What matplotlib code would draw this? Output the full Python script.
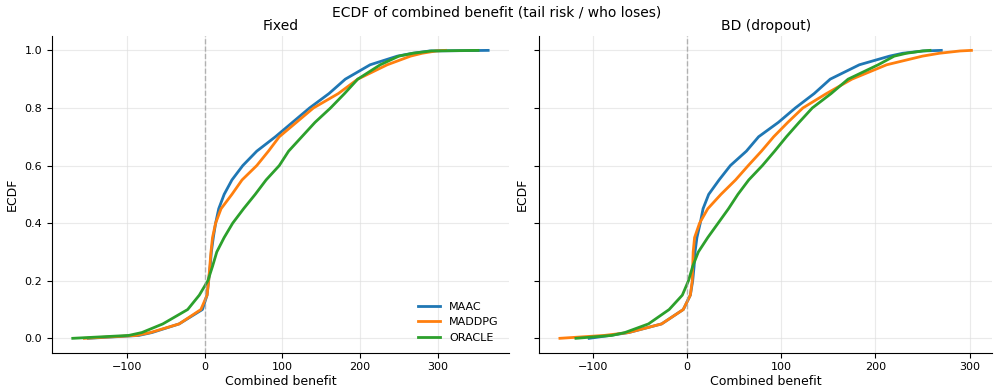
import matplotlib
matplotlib.use("Agg")
import matplotlib.pyplot as plt
import numpy as np

# Cumulative probability levels at which each quantile is given
probs = [0.0, 0.01, 0.02, 0.05, 0.10, 0.15, 0.20, 0.25, 0.30, 0.35, 0.40, 0.45,
         0.50, 0.55, 0.60, 0.65, 0.70, 0.75, 0.80, 0.85, 0.90, 0.95, 0.98,
         0.99, 0.998, 1.0]

# Fixed setting: combined-benefit quantiles per method
fixed_maac = [-150, -85, -68, -33, -3, 3, 5, 7, 8.5, 11, 14, 18, 25, 35, 49,
              67, 91, 113, 135, 160, 181, 213, 248, 268, 290, 365]
fixed_maddpg = [-155, -88, -70, -33, -5, 3, 5, 6.5, 8, 10, 14, 21, 35, 48, 67,
                82, 96, 118, 140, 172, 197, 235, 265, 280, 298, 310]
fixed_oracle = [-170, -98, -81, -54, -22, -7, 4, 10, 15.5, 25, 36, 50, 65, 79,
                96, 108, 125, 142, 162, 180, 197, 226, 250, 268, 292, 352]

# BD (dropout) setting
bd_maac = [-104, -82, -62, -27, -4, 3.5, 6, 7.5, 8.5, 10.5, 14, 17, 23, 34,
           46, 63, 76, 97, 115, 135, 152, 183, 215, 229, 251, 270]
bd_maddpg = [-135, -88, -62, -27, -4, 3.5, 5.5, 6.5, 6, 8, 13.3, 22, 36, 51.5,
             65, 79, 92, 107, 123, 148, 175, 212, 250, 268, 290, 302]
bd_oracle = [-118, -80, -66, -41, -19, -5, 1.5, 6, 12, 22, 33, 44, 54, 65.5,
             80, 93, 105.5, 119, 133, 153, 171, 203, 220, 233, 250, 258]

methods = ["MAAC", "MADDPG", "ORACLE"]
colors = ["#1f77b4", "#ff7f0e", "#2ca02c"]
panels = [("Fixed", [fixed_maac, fixed_maddpg, fixed_oracle]),
          ("BD (dropout)", [bd_maac, bd_maddpg, bd_oracle])]

fig = plt.figure(figsize=(9.94, 3.89), dpi=100)
ax1 = fig.add_axes([0.0523, 0.0933, 0.4597, 0.8142])
ax2 = fig.add_axes([0.5426, 0.0933, 0.4554, 0.8142], sharey=ax1)

for ax, (title, series) in zip([ax1, ax2], panels):
    for name, col, xs in zip(methods, colors, series):
        ax.plot(np.sort(xs), probs, color=col, lw=2, label=name)
    ax.axvline(0, color="#999999", ls="--", lw=1, alpha=0.7)
    ax.set_title(title, fontsize=10, pad=4)
    ax.set_xlabel("Combined benefit", fontsize=9, labelpad=2)
    ax.set_ylabel("ECDF", fontsize=9)
    ax.grid(True, color="#dddddd", alpha=0.6, lw=0.8)
    ax.set_axisbelow(True)
    ax.spines["top"].set_visible(False)
    ax.spines["right"].set_visible(False)
    ax.tick_params(labelsize=8)
    ax.set_xticks([-100, 0, 100, 200, 300])
    ax.set_yticks([0.0, 0.2, 0.4, 0.6, 0.8, 1.0])

ax1.set_ylim(-0.05, 1.05)
ax2.tick_params(labelleft=False)
ax1.legend(loc="lower right", frameon=False, fontsize=8)

fig.suptitle("ECDF of combined benefit (tail risk / who loses)", fontsize=10, y=0.985)

fig.savefig("out.png", dpi=100)
